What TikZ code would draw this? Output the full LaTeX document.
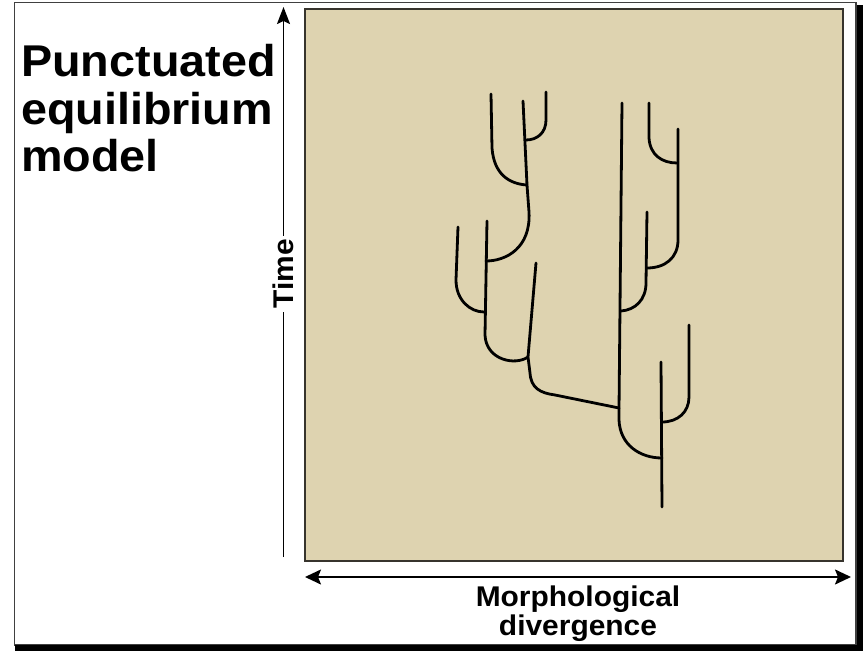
\documentclass[tikz,border=0pt]{standalone}
\usepackage{fontspec}
\setmainfont{Liberation Sans}
\newfontfamily\labfont[FakeStretch=1.05]{Liberation Sans}
\usetikzlibrary{arrows.meta}
\definecolor{beige}{RGB}{222,211,176}
\definecolor{boxedge}{RGB}{55,52,45}
\tikzset{
  branch/.style={line width=2.8pt, line cap=round, line join=round, black},
  axisline/.style={line width=1.8pt, black},
  titletext/.style={font=\labfont\bfseries\fontsize{44.5}{48}\selectfont, inner sep=0pt},
  axistext/.style={font=\labfont\bfseries\fontsize{28.5}{29}\selectfont, inner sep=0pt}
}
\begin{document}
\begin{tikzpicture}[x=1pt,y=-1pt]
\useasboundingbox (0,0) rectangle (868,652);
% outer frame with shadow
\fill[white] (0,0) rectangle (868,652);
\draw[line width=1.2pt, black!75] (14.5,2.5) rectangle (856,645);
\fill[black] (856.5,5) rectangle (863,651);
\fill[black] (15,645) rectangle (863,651);
% beige panel
\node[draw=boxedge, line width=2pt, fill=beige, minimum width=538pt, minimum height=552pt, inner sep=0pt, anchor=north west] (panel) at (304,8) {};
% title
\node[titletext, anchor=base west] (t1) at (21,77) {Punctuated};
\node[titletext, anchor=base west] (t2) at (21,125) {equilibrium};
\node[titletext, anchor=base west] (t3) at (21,172) {model};
% time axis
\coordinate (tbot) at (283.5,557);
\coordinate (ttop) at (283.5,7);
\draw[axisline, -{Stealth[length=17pt, width=13pt, inset=3pt]}] (tbot) -- (ttop);
\node[axistext, fill=white, rotate=90, inner xsep=3pt, inner ysep=2pt, anchor=base] (time) at (293,274) {Time};
% divergence axis
\coordinate (dl) at (305,577);
\coordinate (dr) at (851,577);
\draw[axisline, {Stealth[length=16pt, width=15pt, inset=3pt]}-{Stealth[length=16pt, width=15pt, inset=3pt]}] (dl) -- (dr);
\node[axistext, anchor=base] (m1) at (578,606) {Morphological};
\node[axistext, anchor=base] (m2) at (578,635) {divergence};
% tree
\draw[branch] (491,94) -- (492,148) .. controls (494,175) and (510,184) .. (527,185);
\draw[branch] (546,92) -- (546,120) .. controls (546,133) and (537,140) .. (526,140);
\draw[branch] (523,101) -- (527,185) -- (529,212) .. controls (531,248) and (506,261) .. (486,261);
\draw[branch] (458,227) -- (456,280) .. controls (456,300) and (470,312) .. (484,312);
\draw[branch] (487,221) -- (485,335) .. controls (486,360) and (515,366) .. (528,357);
\draw[branch] (536,263) -- (528,357) -- (530,373) .. controls (531,388) and (540,393) .. (555,395) -- (619,408);
\draw[branch] (622,103) -- (619,410) -- (619,420) .. controls (620,445) and (640,458) .. (662,458);
\draw[branch] (649,103) -- (649,138) .. controls (650,155) and (662,163) .. (677,163);
\draw[branch] (678,129) -- (678,240) .. controls (678,258) and (665,268) .. (647,268);
\draw[branch] (647,212) -- (646,283) .. controls (646,300) and (635,310) .. (621,311);
\draw[branch] (661,362) -- (662,507);
\draw[branch] (689,325) -- (689,397) .. controls (689,412) and (678,422) .. (662,422);
\end{tikzpicture}
\end{document}
